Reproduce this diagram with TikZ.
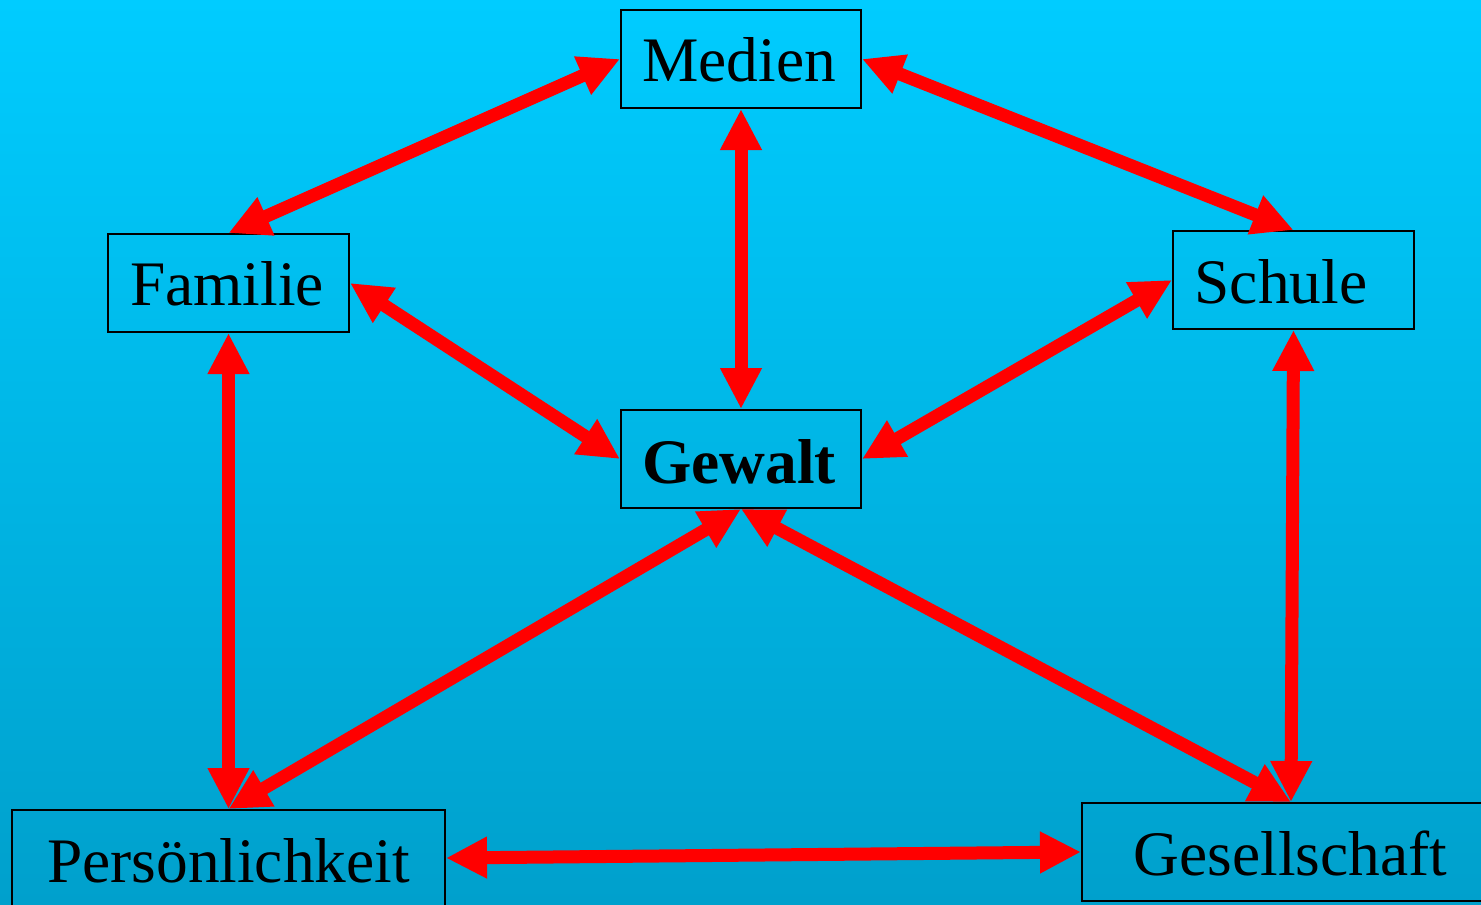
\documentclass[tikz,border=0pt]{standalone}
\usepackage{fontspec}
\setmainfont{Liberation Serif}
\usetikzlibrary{arrows.meta}
\definecolor{skytop}{RGB}{0,204,255}
\definecolor{skybottom}{RGB}{0,160,204}
\definecolor{linkred}{RGB}{255,0,0}
\begin{document}
\begin{tikzpicture}[x=0.5pt,y=-0.5pt,
  box/.style={draw=black, line width=1pt, rectangle, inner sep=0pt},
  txt/.style={anchor=base, inner sep=0pt, font=\fontsize{31.7}{38}\selectfont},
  link/.style={draw=linkred, line width=6.5pt, {Triangle[length=20.5pt,width=19.5pt]}-{Triangle[length=20.5pt,width=19.5pt]}}]
  \useasboundingbox (0,0) rectangle (1481,904);
  \clip (0,0) rectangle (1481,904);
  % background
  \shade[top color=skytop, bottom color=skybottom] (0,0) rectangle (1481,904);

  % boxes
  \node[box, minimum width=120pt, minimum height=49pt] (medien) at (741,59) {};
  \node[box, minimum width=120.5pt, minimum height=49pt] (familie) at (228.5,283) {};
  \node[box, minimum width=120.5pt, minimum height=49pt] (schule) at (1293.5,280) {};
  \node[box, minimum width=120pt, minimum height=49pt] (gewalt) at (741,459) {};
  \node[box, minimum width=216.5pt, minimum height=48pt] (pers) at (228.5,858) {};
  \node[box, minimum width=209pt, minimum height=49pt] (gesell) at (1291,852) {};

  % labels
  \node[txt] (medien-t) at (739,82) {Medien};
  \node[txt] (familie-t) at (227,305) {Familie};
  \node[txt] (schule-t) at (1281,303) {Schule};
  \node[txt, font=\fontsize{31.7}{38}\selectfont\bfseries] (gewalt-t) at (739,483) {Gewalt};
  \node[txt] (pers-t) at (228.5,882) {Persönlichkeit};
  \node[txt] (gesell-t) at (1290.5,875) {Gesellschaft};

  % connections
  \draw[link] (familie.north) -- (medien.west);
  \draw[link] (medien.east) -- (schule.north);
  \draw[link] (medien.south) -- (gewalt.north);
  \draw[link] (familie.east) -- (gewalt.west);
  \draw[link] (schule.west) -- (gewalt.east);
  \draw[link] (familie.south) -- (pers.north);
  \draw[link] (gewalt.south) -- (pers.north);
  \draw[link] (gewalt.south) -- (gesell.north);
  \draw[link] (schule.south) -- (gesell.north);
  \draw[link] (pers.east) -- (gesell.west);
\end{tikzpicture}
\end{document}
